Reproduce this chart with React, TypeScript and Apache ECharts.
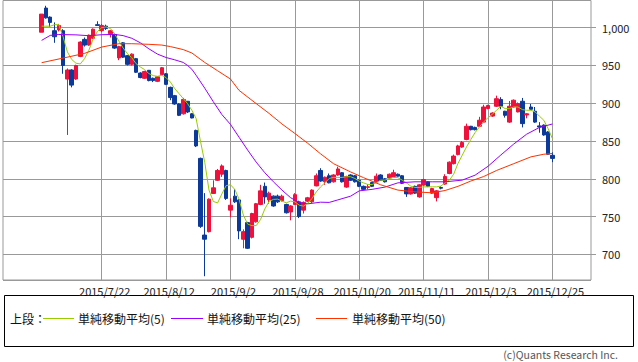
import React, { useEffect, useRef } from "react";
import * as echarts from "echarts";

// Trading days (Tokyo), 2015
const julDays = [1, 2, 3, 6, 7, 8, 9, 10, 13, 14, 15, 16, 17, 21, 22, 23, 24, 27, 28, 29, 30, 31];
const augDays = [3, 4, 5, 6, 7, 10, 11, 12, 13, 14, 17, 18, 19, 20, 21, 24, 25, 26, 27, 28, 31];
const sepDays = [1, 2, 3, 4, 7, 8, 9, 10, 11, 14, 15, 16, 17, 18, 24, 25, 28, 29, 30];
const octDays = [1, 2, 5, 6, 7, 8, 9, 13, 14, 15, 16, 19, 20, 21, 22, 23, 26, 27, 28, 29, 30];
const novDays = [2, 4, 5, 6, 9, 10, 11, 12, 13, 16, 17, 18, 19, 20, 24, 25, 26, 27, 30];
const decDays = [1, 2, 3, 4, 7, 8, 9, 10, 11, 14, 15, 16, 17, 18, 21, 22, 24, 25];

const tickLabels = ["2015/7/22", "2015/8/12", "2015/9/2", "2015/9/28", "2015/10/20", "2015/11/11", "2015/12/3", "2015/12/25"];
const yTicks = [700, 750, 800, 850, 900, 950, 1000];

const opens = [
  994, 1026, 1014, 996, 997, 996, 932, 944, 932, 962,
  984.5, 977, 986, 1004, 996, 1002, 992, 991, 960, 980,
  963, 951.5, 959, 940, 933, 943.6, 933, 929, 938, 939,
  921, 910, 899, 886, 902.6, 886, 864, 827, 725.5, 730,
  780.6, 798, 806, 811, 758.5, 777, 772, 720, 742, 722.5,
  743, 766, 790, 772, 777, 777, 771, 766, 756, 766,
  769.5, 758.5, 770.4, 769.5, 790.6, 811, 796, 804, 796, 805,
  808, 789, 805, 804, 798, 790, 788.5, 795, 796, 805,
  800, 801, 803, 806, 804, 788.5, 780, 790, 776, 791.6,
  796, 781, 775, 788.5, 793, 807, 820, 832, 842, 852,
  869.5, 868, 869.5, 875, 893, 883, 896, 905, 889.4, 875,
  895, 888.5, 902.6, 884.5, 895, 889.4, 870, 871, 862, 831,
];
const closes = [
  1018, 1013, 1007, 988, 1003, 950, 944, 924, 950, 981,
  977, 990, 998, 1003, 1003, 999, 996, 973, 975, 961,
  951.5, 965, 941, 934, 942, 930, 930, 935, 947, 925,
  907.5, 899, 884, 905, 888.5, 880.5, 843.5, 737, 720, 773,
  788, 811, 817, 774, 765, 769.5, 731, 730, 708, 754,
  767, 784, 776, 781, 764, 769.5, 777, 755, 764, 779,
  750, 768.7, 774.8, 785, 804, 797, 802, 794.6, 805, 813,
  796, 803, 798, 796, 790, 786, 789.5, 790, 803.5, 798,
  796, 806, 808, 803.5, 794, 780, 788, 781, 792, 799,
  790, 787, 784, 787.5, 803, 822, 830, 843.5, 848, 869.5,
  865, 865, 877.5, 895, 897, 887, 906, 896, 884, 896,
  904, 899.5, 873, 886, 892, 875, 868.5, 858, 832.5, 827,
];
const lows = [
  994, 1012, 1001, 980, 995, 939, 858, 921, 931, 961,
  975, 976, 985, 1003, 994, 997, 987, 972, 957, 960,
  950, 950, 940, 933, 932, 929, 928, 928, 937, 924,
  904, 898, 883, 885, 887, 880, 842, 735, 671, 729,
  780, 797, 802.5, 772, 749, 768, 720, 708, 707, 721,
  742, 765, 767, 767, 763, 768, 770, 754, 745, 765,
  748, 754, 769, 768, 790, 796, 792, 794, 795, 804,
  795, 788, 797, 795, 789, 785, 786, 789, 795, 797,
  795, 800, 802, 803, 793, 776, 779, 780, 775, 791,
  789, 780, 770, 786, 792, 806, 819, 831, 841, 851,
  864, 864, 869, 874, 892, 882, 895, 892, 881, 874,
  894, 888, 868, 880, 891, 874, 861, 857, 832, 822,
];
const highs = [
  1018, 1029, 1015, 1007, 1005, 998, 946, 945, 951, 982,
  987, 991, 999, 1008.5, 1005, 1004, 997, 992, 976, 981,
  964, 966, 960, 941, 943, 944, 934, 936, 948, 940,
  922, 911, 900, 907, 903, 887, 865, 828, 781, 774,
  798, 813, 819, 812, 774, 786, 773, 733, 743, 755,
  768, 792, 795, 783, 778, 779, 779, 767, 765, 781,
  771, 770, 776, 786, 807, 814, 803, 807, 806, 816,
  809, 804, 806, 805, 799, 791, 793, 796, 807, 806,
  801, 807, 812, 807, 805, 789, 789, 791, 793, 800,
  797, 788, 785, 790, 806, 823, 832, 845, 850, 873,
  870, 869, 882, 898, 898, 888, 910, 908, 890, 903,
  905, 901, 907, 887, 899, 895, 875, 872, 863, 835,
];

const ma5 = [
  1002, 1002, 1002, 1004, 1004, 988, 968, 958, 953, 952,
  959, 970, 985, 995, 1000, 1001, 999, 992, 982.3, 973,
  965.6, 960.3, 952.4, 948, 944.5, 939.2, 936.6, 935.6, 937, 933.9,
  928.1, 919.4, 912.8, 906.2, 899.5, 890.7, 879.7, 850, 822, 785,
  770, 768, 780, 791, 792, 786, 773, 752, 740, 738,
  738, 746, 760, 770, 772.7, 773.1, 770.4, 768.2, 770.4, 769.5,
  765.1, 763.8, 767.4, 774, 782.7, 789.3, 794.6, 800.4, 801.8, 801.8,
  801.8, 802.7, 802.7, 800.4, 796.8, 794.6, 792.5, 792.5, 794.6, 798.2,
  798.2, 800.4, 801.8, 801.5, 798.2, 794.6, 790.3, 788.5, 788.5, 789.3,
  789.3, 789.3, 789.3, 790.3, 794.6, 798.2, 806, 820.2, 831.2, 842.2,
  852, 861.2, 868.6, 875.2, 881, 885.4, 890.7, 896, 892.9, 892.9,
  895, 895, 891.6, 890.7, 890.7, 888.5, 882.8, 877.5, 866.5, 853.3,
];

// [day index, value]
const ma25Points = [
  [0, 983.2], [2, 989.8], [4, 991], [8, 990.5], [11, 989.4], [14, 990.7], [17, 991.1], [19, 989.5],
  [21, 986], [23, 980], [25, 972], [27, 965], [29, 960.5], [31, 957.5], [33, 954], [34, 950],
  [35, 945], [36, 937], [38, 920], [40, 902], [42, 885], [44, 872], [46, 855], [48, 838],
  [50, 822], [52, 808], [54, 796], [56, 785], [58, 775], [60, 768.5], [62, 766.8], [65, 769],
  [67, 768.7], [69, 772], [72, 777], [74, 784], [77, 786], [80, 789], [83, 794.6], [87, 796],
  [91, 796], [94, 796], [98, 798.2], [101, 804.8], [104, 816.5], [107, 831.5], [110, 846],
  [113, 859], [116, 868], [119, 872.5],
];
const ma50Points = [
  [0, 953.7], [6, 961], [10, 966], [14, 974.4], [18, 978.8], [21, 978.8], [25, 978], [28, 977],
  [30, 975], [33, 971], [35, 966.5], [38, 954], [41, 943], [44, 932], [46, 917], [50, 899.5],
  [53, 886.5], [56, 872.5], [59, 860], [62, 847], [65, 833], [68, 820], [72, 809], [75, 801.5],
  [79, 792], [83, 785], [87, 782.7], [91, 781.4], [94, 784.5], [97, 790], [100, 797], [103, 803],
  [106, 811], [110, 820], [114, 829], [117, 832.5], [119, 833.5],
];

const seriesNames = ["単純移動平均(5)", "単純移動平均(25)", "単純移動平均(50)"];
const seriesColors = ["#99cc00", "#9900ff", "#ff3300"];

const PAD_LEFT = 9;
const PAD_RIGHT = 9;
const FONT = '"Noto Sans CJK JP", "Noto Sans", sans-serif';

export default function App() {
  const ref = useRef<HTMLDivElement>(null);

  useEffect(() => {
    if (!ref.current) return;
    const chart = echarts.init(ref.current, undefined, { renderer: "svg" });

    const dates: string[] = [];
    const months: [number, number[]][] = [[7, julDays], [8, augDays], [9, sepDays], [10, octDays], [11, novDays], [12, decDays]];
    months.forEach(([m, days]) => days.forEach((d) => dates.push(`2015/${m}/${d}`)));
    const categories: string[] = [];
    for (let i = 0; i < PAD_LEFT; i++) categories.push(`pl${i}`);
    dates.forEach((d) => categories.push(d));
    for (let i = 0; i < PAD_RIGHT; i++) categories.push(`pr${i}`);

    const tickSet = new Set(tickLabels);
    const showTick = (_idx: number, value: string) => tickSet.has(value);

    const candleData = opens.map((o, i) => [i + PAD_LEFT, o, closes[i], lows[i], highs[i]]);
    const ma5Data = ma5.map((v, i) => [i + PAD_LEFT, v]);
    const ma25Data = ma25Points.map(([i, v]) => [i + PAD_LEFT, v]);
    const ma50Data = ma50Points.map(([i, v]) => [i + PAD_LEFT, v]);

    const lineSeries = (name: string, color: string, data: number[][]) => ({
      name,
      type: "line",
      data,
      showSymbol: false,
      symbol: "none",
      lineStyle: { color, width: 1 },
      itemStyle: { color },
      z: 3,
    });

    const legendY = 318;
    const legendItems = [
      { x1: 43, x2: 74, tx: 78 },
      { x1: 171, x2: 203, tx: 207 },
      { x1: 316, x2: 347, tx: 352 },
    ];

    const graphic: any[] = [
      {
        type: "rect",
        shape: { x: 4.5, y: 295.5, width: 629, height: 51 },
        style: { fill: "none", stroke: "#000", lineWidth: 1 },
      },
      {
        type: "text",
        x: 10,
        y: legendY,
        style: { text: "上段：", font: `12px ${FONT}`, fill: "#111", verticalAlign: "middle" },
      },
      {
        type: "text",
        x: 618,
        y: 354,
        style: { text: "(c)Quants Research Inc.", font: `10.5px ${FONT}`, fill: "#555", align: "right", verticalAlign: "middle" },
      },
    ];
    legendItems.forEach((it, k) => {
      graphic.push({
        type: "line",
        shape: { x1: it.x1, y1: legendY + 0.5, x2: it.x2, y2: legendY + 0.5 },
        style: { stroke: seriesColors[k], lineWidth: 1 },
      });
      graphic.push({
        type: "text",
        x: it.tx,
        y: legendY,
        style: { text: seriesNames[k], font: `12px ${FONT}`, fill: "#111", verticalAlign: "middle" },
      });
    });

    chart.setOption({
      animation: false,
      backgroundColor: "#ffffff",
      textStyle: { fontFamily: FONT },
      grid: {
        left: 3,
        right: 47,
        top: 0.5,
        bottom: 82,
        show: true,
        borderColor: "#999",
        borderWidth: 1,
        backgroundColor: "#ffffff",
        containLabel: false,
      },
      xAxis: {
        type: "category",
        data: categories,
        boundaryGap: false,
        axisLine: { show: false },
        axisTick: { show: false },
        axisLabel: {
          interval: showTick,
          color: "#222",
          fontSize: 11,
          fontFamily: FONT,
          margin: 5,
          padding: [0, 0, 0, 6],
        },
        splitLine: { show: true, interval: showTick, lineStyle: { color: "#999", width: 1 } },
      },
      yAxis: {
        type: "value",
        position: "right",
        min: 666,
        max: 1036,
        splitNumber: yTicks.length,
        axisLine: { show: false },
        axisTick: { show: true, inside: false, length: 5, lineStyle: { color: "#999" } },
        axisLabel: {
          color: "#222",
          fontSize: 11,
          fontFamily: FONT,
          margin: 11,
          showMinLabel: false,
          showMaxLabel: false,
          formatter: (v: number) => v.toLocaleString("en-US"),
        },
        splitLine: { show: true, lineStyle: { color: "#999", width: 1 } },
      },
      graphic,
      series: [
        {
          type: "candlestick",
          data: candleData,
          encode: { x: 0, y: [1, 2, 3, 4] },
          barWidth: 4,
          itemStyle: {
            color: "#f0103c",
            color0: "#0b3a9a",
            borderColor: "#f0103c",
            borderColor0: "#0b3a9a",
            borderWidth: 1,
          },
          z: 2,
        },
        lineSeries(seriesNames[0], seriesColors[0], ma5Data),
        lineSeries(seriesNames[1], seriesColors[1], ma25Data),
        lineSeries(seriesNames[2], seriesColors[2], ma50Data),
      ],
    });

    return () => chart.dispose();
  }, []);

  return (
    <div
      ref={ref}
      style={{ position: "fixed", left: 0, top: 0, width: 638, height: 362, background: "#fff" }}
    />
  );
}
